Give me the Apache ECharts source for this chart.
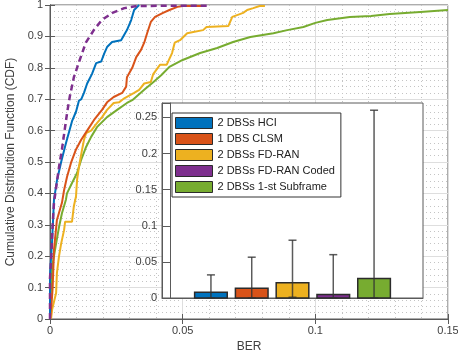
<!DOCTYPE html>
<html><head><meta charset="utf-8">
<script src="https://cdn.jsdelivr.net/npm/echarts@6/dist/echarts.min.js"></script>
<style>html,body{margin:0;padding:0;background:#fff}#c{width:458px;height:352px}</style>
</head><body><div id="c"></div><script>
// ---- data ----
const barNames = ['2 DBSs HCI', '1 DBS CLSM', '2 DBSs FD-RAN', '2 DBSs FD-RAN Coded', '2 DBSs 1-st Subframe'];
const barColors = ['#0072BD', '#D95319', '#EDB120', '#7E2F8E', '#77AC30'];
const barMean = [0.008, 0.0135, 0.021, 0.005, 0.027];
const errLow = [0, 0, 0.001, 0, 0];
const errHigh = [0.032, 0.0565, 0.08, 0.06, 0.26];

const cdfHCI = [[0,0],[0,0.14],[0.0008,0.25],[0.0015,0.38],[0.0026,0.44],[0.0042,0.5],[0.006,0.56],[0.0083,0.63],[0.0098,0.66],[0.0109,0.695],[0.0118,0.7],[0.0128,0.72],[0.014,0.75],[0.0158,0.78],[0.0174,0.815],[0.0193,0.82],[0.0205,0.847],[0.0215,0.866],[0.0234,0.882],[0.0268,0.888],[0.029,0.92],[0.0306,0.952],[0.0317,0.984],[0.0336,1]];
const cdfCLSM = [[0,0],[0.0006,0.05],[0.001,0.1],[0.0015,0.22],[0.0026,0.315],[0.0045,0.37],[0.0053,0.41],[0.0064,0.452],[0.0079,0.497],[0.0098,0.54],[0.0117,0.57],[0.014,0.6],[0.0166,0.634],[0.0196,0.666],[0.0215,0.69],[0.024,0.707],[0.0272,0.72],[0.0287,0.74],[0.029,0.77],[0.031,0.8],[0.0325,0.834],[0.0343,0.857],[0.0355,0.88],[0.0366,0.91],[0.038,0.946],[0.0396,0.962],[0.0426,0.975],[0.045,0.984],[0.048,0.994],[0.05,0.997],[0.057,0.997]];
const cdfFDRAN = [[0.0004,0],[0.0008,0.03],[0.0023,0.083],[0.0026,0.146],[0.0034,0.2],[0.0042,0.24],[0.0053,0.283],[0.0057,0.31],[0.0083,0.31],[0.009,0.36],[0.0098,0.39],[0.0102,0.443],[0.0109,0.484],[0.0121,0.54],[0.0128,0.57],[0.0136,0.592],[0.0155,0.6],[0.0177,0.624],[0.0196,0.643],[0.0215,0.666],[0.024,0.688],[0.026,0.69],[0.028,0.703],[0.0317,0.72],[0.0336,0.73],[0.0355,0.75],[0.038,0.755],[0.0389,0.78],[0.0415,0.81],[0.044,0.81],[0.046,0.847],[0.047,0.88],[0.049,0.888],[0.0517,0.91],[0.054,0.914],[0.0577,0.92],[0.059,0.93],[0.0672,0.933],[0.0687,0.962],[0.0728,0.975],[0.0743,0.984],[0.0766,0.99],[0.079,0.997],[0.081,0.997]];
const cdfCoded = [[0,0],[0,0.13],[0.0005,0.2],[0.001,0.3],[0.0015,0.37],[0.0025,0.43],[0.0035,0.49],[0.0045,0.54],[0.0055,0.6],[0.0065,0.66],[0.0075,0.71],[0.009,0.77],[0.011,0.82],[0.0135,0.88],[0.0165,0.92],[0.0195,0.952],[0.0235,0.975],[0.028,0.99],[0.033,0.997],[0.06,0.998]];
const cdfSub1 = [[0,0],[0.0003,0.083],[0.0008,0.166],[0.0023,0.24],[0.0034,0.293],[0.0045,0.337],[0.006,0.38],[0.0064,0.4],[0.0083,0.433],[0.0102,0.465],[0.0117,0.506],[0.0136,0.548],[0.0155,0.58],[0.0177,0.611],[0.0215,0.643],[0.0253,0.666],[0.029,0.688],[0.031,0.697],[0.0317,0.703],[0.0355,0.73],[0.039,0.755],[0.042,0.777],[0.045,0.803],[0.05,0.825],[0.0566,0.847],[0.063,0.863],[0.069,0.882],[0.0755,0.898],[0.0842,0.91],[0.0894,0.92],[0.0955,0.93],[0.1,0.943],[0.1045,0.952],[0.113,0.962],[0.121,0.965],[0.128,0.971],[0.1396,0.978],[0.15,0.984]];

// ---- chart ----
const FONT = 'Liberation Sans, Arial, sans-serif';
const AX = '#5a5a5a';
const chart = echarts.init(document.getElementById('c'), null, {renderer: 'canvas'});

function lineSeries(data, color, dashed, z) {
  return {
    type: 'line', xAxisIndex: 0, yAxisIndex: 0, data: data, showSymbol: false, symbol: 'none',
    lineStyle: {color: color, width: dashed ? 2.5 : 2, type: dashed ? [6, 4] : 'solid'},
    z: z, animation: false, silent: true
  };
}

const barSeries = barNames.map((n, i) => ({
  name: n, type: 'custom', xAxisIndex: 2, yAxisIndex: 3, z: 6,
  itemStyle: {color: barColors[i]},
  data: [[i + 1, barMean[i]]],
  renderItem: function (params, api) {
    const p0 = api.coord([api.value(0) - 0.4, api.value(1)]);
    const p1 = api.coord([api.value(0) + 0.4, 0]);
    return {type: 'rect', shape: {x: p0[0], y: p0[1], width: p1[0] - p0[0], height: p1[1] - p0[1]},
      style: {fill: barColors[i], stroke: '#2b2b2b', lineWidth: 1.5}};
  }
}));

const errData = barMean.map((v, i) => [i + 1, errLow[i], errHigh[i]]);
const errSeries = {
  type: 'custom', xAxisIndex: 2, yAxisIndex: 3, z: 7, data: errData,
  renderItem: function (params, api) {
    const lo = api.coord([api.value(0), api.value(1)]);
    const hi = api.coord([api.value(0), api.value(2)]);
    const w = 4;
    const st = {stroke: 'rgba(50,50,50,0.8)', lineWidth: 1.5};
    return {type: 'group', children: [
      {type: 'line', shape: {x1: lo[0], y1: lo[1], x2: hi[0], y2: hi[1]}, style: st},
      {type: 'line', shape: {x1: hi[0] - w, y1: hi[1], x2: hi[0] + w, y2: hi[1]}, style: st},
      {type: 'line', shape: {x1: lo[0] - w, y1: lo[1], x2: lo[0] + w, y2: lo[1]}, style: st}
    ]};
  }
};

const labelStyle = {color: '#404040', fontFamily: FONT, fontSize: 11};
const option = {
  animation: false,
  backgroundColor: '#fff',
  grid: [
    {left: 50, right: 10, top: 5, bottom: 33, show: true, borderColor: AX, borderWidth: 1, z: 0, outerBoundsMode: 'none', containLabel: false},
    {left: 162, right: 35, top: 103, bottom: 54, show: true, backgroundColor: '#fff', borderColor: AX, borderWidth: 1, z: 4, outerBoundsMode: 'none', containLabel: false}
  ],
  xAxis: [
    {type: 'value', gridIndex: 0, min: 0, max: 0.15, interval: 0.05, position: 'bottom',
      axisLine: {show: true, lineStyle: {color: AX}}, axisTick: {show: true, inside: true, length: 5, lineStyle: {color: AX}},
      axisLabel: Object.assign({margin: 6}, labelStyle),
      splitLine: {show: true, lineStyle: {color: '#dedede', width: 1}},
      minorTick: {show: false, splitNumber: 5},
      minorSplitLine: {show: true, lineStyle: {color: '#c4c4c4', width: 1, type: [1, 3]}},
      name: 'BER', nameLocation: 'middle', nameGap: 18,
      nameTextStyle: {color: '#404040', fontFamily: FONT, fontSize: 12}},
    {type: 'value', gridIndex: 0, min: 0, max: 0.15, interval: 0.05, position: 'top',
      axisLine: {show: true, lineStyle: {color: AX}}, axisTick: {show: true, inside: true, length: 5, lineStyle: {color: AX}},
      axisLabel: {show: false}, splitLine: {show: false}},
    {type: 'value', gridIndex: 1, min: -0.2, max: 6.2, z: 5,
      axisLine: {show: true, lineStyle: {color: AX}}, axisTick: {show: false}, axisLabel: {show: false}, splitLine: {show: false}}
  ],
  yAxis: [
    {type: 'value', gridIndex: 0, min: 0, max: 1, interval: 0.1, position: 'left',
      axisLine: {show: true, lineStyle: {color: AX}}, axisTick: {show: true, inside: true, length: 5, lineStyle: {color: AX}},
      axisLabel: Object.assign({margin: 7}, labelStyle),
      splitLine: {show: true, lineStyle: {color: '#dedede', width: 1}},
      minorTick: {show: false, splitNumber: 5},
      minorSplitLine: {show: true, lineStyle: {color: '#c4c4c4', width: 1, type: [1, 3]}},
      name: 'Cumulative Distribution Function (CDF)', nameLocation: 'middle', nameGap: 30,
      nameTextStyle: {color: '#404040', fontFamily: FONT, fontSize: 12}},
    {type: 'value', gridIndex: 0, min: 0, max: 1, interval: 0.1, position: 'right',
      axisLine: {show: true, lineStyle: {color: AX}}, axisTick: {show: true, inside: true, length: 5, lineStyle: {color: AX}},
      axisLabel: {show: false}, splitLine: {show: false}},
    {type: 'value', gridIndex: 1, min: 0, max: 0.27, interval: 0.05, position: 'right', z: 5,
      axisLine: {show: true, lineStyle: {color: AX}}, axisTick: {show: true, inside: true, length: 5, lineStyle: {color: AX}},
      axisLabel: {show: false}, splitLine: {show: false}},
    {type: 'value', gridIndex: 1, min: 0, max: 0.27, interval: 0.05, position: 'left', z: 5,
      axisLine: {show: true, lineStyle: {color: AX}}, axisTick: {show: true, inside: true, length: 5, lineStyle: {color: AX}},
      axisLabel: Object.assign({margin: 5, formatter: function (v) {
        const k = Math.round(v / 0.05);
        return Math.abs(v - k * 0.05) < 1e-9 ? String(+(k * 0.05).toFixed(2)) : '';
      }}, labelStyle),
      splitLine: {show: false}}
  ],
  legend: {
    show: true, orient: 'vertical', left: 172, top: 113, z: 10,
    data: barNames, icon: 'rect', itemWidth: 37, itemHeight: 11, itemGap: 4,
    padding: [4, 6, 4, 3], backgroundColor: '#fff', borderColor: '#333', borderWidth: 1,
    itemStyle: {borderColor: '#2b2b2b', borderWidth: 1},
    textStyle: {color: '#222', fontFamily: FONT, fontSize: 11},
    selectedMode: false
  },
  series: [
    lineSeries(cdfSub1, '#77AC30', false, 2),
    lineSeries(cdfFDRAN, '#EDB120', false, 2),
    lineSeries(cdfCLSM, '#D95319', false, 2),
    lineSeries(cdfHCI, '#0072BD', false, 2),
    lineSeries(cdfCoded, '#7E2F8E', true, 2)
  ].concat(barSeries, [errSeries])
};
chart.setOption(option);
</script></body></html>
